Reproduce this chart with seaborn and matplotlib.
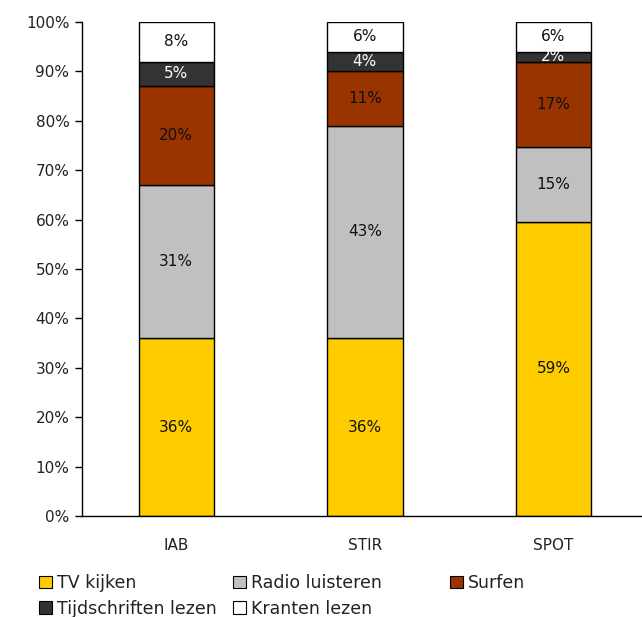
import matplotlib.pyplot as plt
import matplotlib
import seaborn as sb
import numpy as np
from matplotlib.patches import Patch

categories = ["IAB", "STIR", "SPOT"]
series = ["TV kijken", "Radio luisteren", "Surfen", "Tijdschriften lezen", "Kranten lezen"]
tv_kijken = [36, 36, 59]
radio_luisteren = [31, 43, 15]
surfen = [20, 11, 17]
tijdschriften_lezen = [5, 4, 2]
kranten_lezen = [8, 6, 6]
y_ticks = [0, 10, 20, 30, 40, 50, 60, 70, 80, 90, 100]

colors = ["#FFCC00", "#C0C0C0", "#993300", "#333333", "#FFFFFF"]
text_colors = ["#111111", "#111111", "#111111", "white", "#111111"]

sb.set_style("white")
matplotlib.rcParams["font.family"] = ["DejaVu Sans"]
matplotlib.rcParams["font.size"] = 11

values = np.array([tv_kijken, radio_luisteren, surfen, tijdschriften_lezen, kranten_lezen], dtype=float)
shares = values / values.sum(axis=0) * 100  # bars are stacked to 100%

fig = plt.figure(figsize=(6.42, 6.17), dpi=100)
ax = fig.add_axes([82 / 642, 1 - 516 / 617, 1 - 82 / 642, (516 - 22) / 617])

bottom = np.zeros(len(categories))
for i, name in enumerate(series):
    sb.barplot(x=categories, y=shares[i], bottom=bottom, color=colors[i], width=0.4,
               edgecolor="black", linewidth=1, saturation=1, ax=ax)
    for j in range(len(categories)):
        ax.text(j, bottom[j] + shares[i][j] / 2, "%d%%" % values[i][j], ha="center", va="center",
                color=text_colors[i], fontsize=11)
    bottom = bottom + shares[i]

ax.set_ylim(0, 100)
ax.set_xlim(-0.5, 2.47)
ax.set_yticks(y_ticks)
ax.set_yticklabels(["%d%%" % t for t in y_ticks], color="#222222")
ax.set_xticks(range(len(categories)))
ax.set_xticklabels(categories, color="#222222")
ax.set_xticks([-0.5, 0.5, 1.5], minor=True)
ax.tick_params(axis="x", which="major", length=0, pad=16, labelsize=11)
ax.tick_params(axis="x", which="minor", length=5, width=1, color="black", direction="out")
ax.tick_params(axis="y", length=5, width=1, color="black", direction="out", left=True, pad=4, labelsize=11)
for s in ["top", "right"]:
    ax.spines[s].set_visible(False)
for s in ["left", "bottom"]:
    ax.spines[s].set_color("black")
    ax.spines[s].set_linewidth(1)

handles = [Patch(facecolor=c, edgecolor="black", linewidth=0.8) for c in colors]
leg_kw = dict(loc="upper left", frameon=False, handlelength=0.75, handleheight=0.75,
              handletextpad=0.3, columnspacing=0.9, labelspacing=0.45, fontsize=12.5, borderaxespad=0,
              labelcolor="#222222")
# first two columns, then "Surfen" on its own further right
order = [0, 3, 1, 4]
fig.legend([handles[k] for k in order], [series[k] for k in order], ncol=2,
           bbox_to_anchor=(32 / 642, 1 - 567 / 617), **leg_kw)
fig.legend([handles[2]], [series[2]], ncol=1,
           bbox_to_anchor=(443 / 642, 1 - 567 / 617), **leg_kw)

fig.savefig("out.png", dpi=100)
